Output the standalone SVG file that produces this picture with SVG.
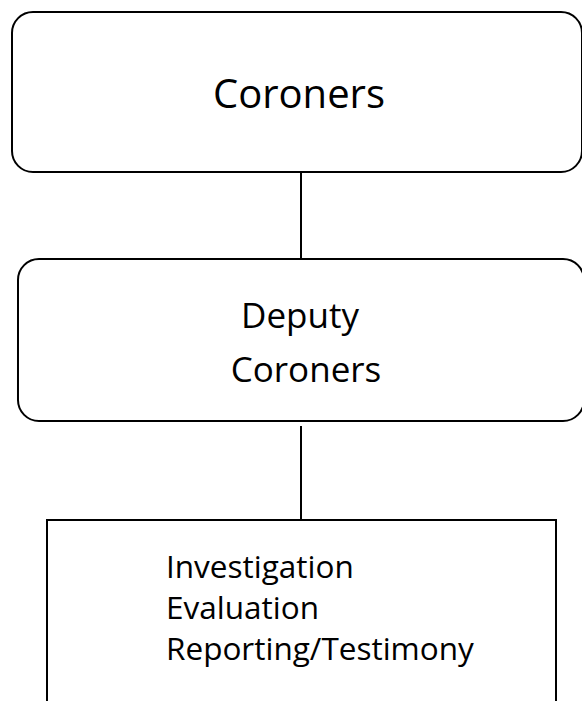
<svg xmlns="http://www.w3.org/2000/svg" width="582" height="701" viewBox="0 0 582 701">
<style>
.box{fill:#fff;stroke:#000;stroke-width:2}
.t{font-family:"Open Sans","DejaVu Sans",sans-serif;fill:#000}
.c{stroke:#000;stroke-width:2;fill:none}
</style>
<rect width="582" height="701" fill="#fff"/>
<g id="connectors">
<line class="c" x1="301" y1="172" x2="301" y2="259"/>
<line class="c" x1="301" y1="426" x2="301" y2="520"/>
</g>
<g id="coroners">
<rect class="box" x="12" y="12" width="570" height="160" rx="21"/>
<text class="t" x="299" y="108" font-size="40" text-anchor="middle">Coroners</text>
</g>
<g id="deputy-coroners">
<rect class="box" x="18" y="259" width="566" height="162" rx="21"/>
<text class="t" x="300" y="328" font-size="35" text-anchor="middle">Deputy</text>
<text class="t" x="306" y="382" font-size="35" text-anchor="middle">Coroners</text>
</g>
<g id="duties">
<rect class="box" x="47" y="520" width="509" height="200"/>
<text class="t" x="166" y="578" font-size="31.5">Investigation</text>
<text class="t" x="166" y="619" font-size="31.5">Evaluation</text>
<text class="t" x="166" y="660" font-size="31.5">Reporting/Testimony</text>
</g>
</svg>
